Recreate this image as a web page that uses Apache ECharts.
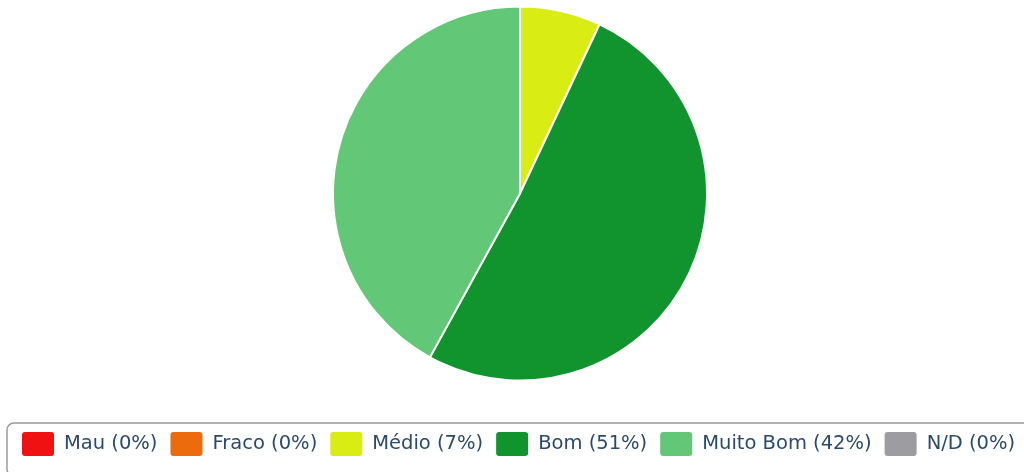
<!DOCTYPE html>
<html>
<head>
<meta charset="utf-8">
<style>
  html, body { margin: 0; padding: 0; background: #ffffff; }
  #chart { width: 1024px; height: 472px; }
</style>
<script src="https://cdn.jsdelivr.net/npm/echarts@6/dist/echarts.min.js"></script>
</head>
<body>
<div id="chart"></div>
<script>
// Rating categories and their share of answers (percent)
const categories = ['Mau', 'Fraco', 'Médio', 'Bom', 'Muito Bom', 'N/D'];
const shares = [0, 0, 7, 51, 42, 0];
const colors = ['#f01212', '#ec6b0c', '#d9ec13', '#11932d', '#62c777', '#9c9ca1'];

const chart = echarts.init(document.getElementById('chart'), null, { renderer: 'canvas' });

const pieData = categories.map((name, i) => ({
  name: name,
  value: shares[i],
  itemStyle: { color: colors[i] }
}));

// Legend swatch: rectangle with slightly rounded corners
const swatch = 'path://M3,0 H29 Q32,0 32,3 V21 Q32,24 29,24 H3 Q0,24 0,21 V3 Q0,0 3,0 Z';

chart.setOption({
  animation: false,
  legend: {
    left: 7,
    top: 423,
    width: 1200,
    orient: 'horizontal',
    padding: [9, 15, 20, 15],
    itemWidth: 32,
    itemHeight: 24,
    itemGap: 13,
    icon: swatch,
    itemStyle: { borderWidth: 0 },
    borderColor: '#9a9a9a',
    borderWidth: 1.5,
    borderRadius: 7,
    selectedMode: false,
    textStyle: {
      fontFamily: 'DejaVu Sans',
      fontSize: 19.5,
      color: '#2c4a6b',
      padding: [4, 0, 0, 5]
    },
    formatter: function (name) {
      const i = categories.indexOf(name);
      return name + ' (' + shares[i] + '%)';
    },
    data: categories
  },
  series: [{
    type: 'pie',
    center: [520, 193.5],
    radius: 187,
    startAngle: 90,
    clockwise: true,
    avoidLabelOverlap: false,
    label: { show: false },
    labelLine: { show: false },
    emphasis: { disabled: true },
    itemStyle: { borderColor: '#ffffff', borderWidth: 2 },
    data: pieData
  }]
});
</script>
</body>
</html>
